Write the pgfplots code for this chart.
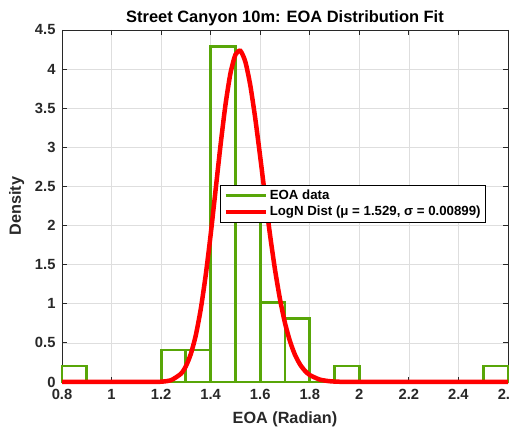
\documentclass[border=0pt]{standalone}
\usepackage{pgfplots}
\pgfplotsset{compat=1.18}
\usepackage{fontspec}
\setmainfont{Liberation Sans}
\definecolor{histgreen}{RGB}{88,166,8}
\definecolor{gridgray}{RGB}{222,222,222}
\definecolor{axgray}{RGB}{40,40,40}
\begin{document}
\begin{tikzpicture}
\begin{axis}[
  scale only axis,
  width=446bp, height=352bp,
  xmin=0.8, xmax=2.6, ymin=0, ymax=4.5,
  xtick={0.8,1,...,2.6},
  ytick={0,0.5,...,4.5},
  xticklabels={0.8,1,1.2,1.4,1.6,1.8,2,2.2,2.4,2.6},
  yticklabels={0,0.5,1,1.5,2,2.5,3,3.5,4,4.5},
  tick align=inside,
  tick pos=both,
  major tick length=5bp,
  grid=major,
  major grid style={gridgray, line width=0.6bp},
  axis line style={axgray, line width=0.8bp},
  tick style={axgray, line width=0.8bp},
  ticklabel style={font=\bfseries\fontsize{14.8}{15}\selectfont, text=axgray},
  xticklabel style={yshift=-4bp},
  yticklabel style={xshift=-3bp},
  title={\bfseries Street Canyon 10m: EOA Distribution Fit},
  title style={font=\fontsize{16.5}{17}\selectfont, yshift=-5bp},
  xlabel={\bfseries EOA (Radian)},
  ylabel={\bfseries Density},
  label style={font=\fontsize{16.3}{17}\selectfont, text=axgray},
  xlabel style={yshift=-5bp},
  ylabel style={yshift=4bp},
  clip=false,
  legend style={at={(0.354,0.56)}, anchor=north west, draw=black, line width=0.8bp,
    font=\bfseries\fontsize{13.3}{14}\selectfont, fill=white, inner xsep=3bp, inner ysep=2.5bp,
    row sep=1.5bp, cells={anchor=west}},
  legend cell align=left,
]
\addplot[ybar interval, draw=histgreen, fill=none, line width=2.8bp,
  legend image code/.code={\draw[histgreen, line width=2.8bp] (0bp,0bp) -- (40bp,0bp);}]
coordinates {
(0.8,0.2041) (0.9,0) (1.0,0) (1.1,0) (1.2,0.4082) (1.3,0.4082) (1.4,4.2857)
(1.5,2.4490) (1.6,1.0204) (1.7,0.8163) (1.8,0) (1.9,0.2041) (2.0,0) (2.1,0)
(2.2,0) (2.3,0) (2.4,0) (2.5,0.2041) (2.6,0)
};
\addlegendentry{EOA data}
\addplot[red, line width=4.5bp, smooth, tension=0.4,
  legend image code/.code={\draw[red, line width=4.5bp] (0bp,0bp) -- (40bp,0bp);}]
coordinates {
(0.8,0) (1.0,0) (1.12,0) (1.16,0.0004) (1.20,0.0036) (1.24,0.0230) (1.28,0.1054)
(1.30,0.2015) (1.32,0.3591) (1.34,0.5977) (1.36,0.9323) (1.38,1.3660)
(1.40,1.8856) (1.42,2.4577) (1.44,3.0325) (1.46,3.5492) (1.48,3.9489)
(1.50,4.1852) (1.52,4.2333) (1.54,4.0937) (1.56,3.7915) (1.58,3.3689)
(1.60,2.8762) (1.62,2.3630) (1.64,1.8707) (1.66,1.4293) (1.68,1.0552)
(1.70,0.7537) (1.72,0.5214) (1.74,0.3497) (1.76,0.2279) (1.78,0.1443)
(1.80,0.0888) (1.84,0.0311) (1.88,0.0099) (1.92,0.0030) (2.0,0.0002)
(2.1,0) (2.6,0)
};
\addlegendentry{LogN Dist (μ = 1.529, σ = 0.00899)}
\end{axis}
\pgfresetboundingbox
\path[use as bounding box] ([xshift=-62bp,yshift=-46bp]current axis.south west) rectangle ([xshift=1bp,yshift=30bp]current axis.north east);
\end{tikzpicture}
\end{document}
